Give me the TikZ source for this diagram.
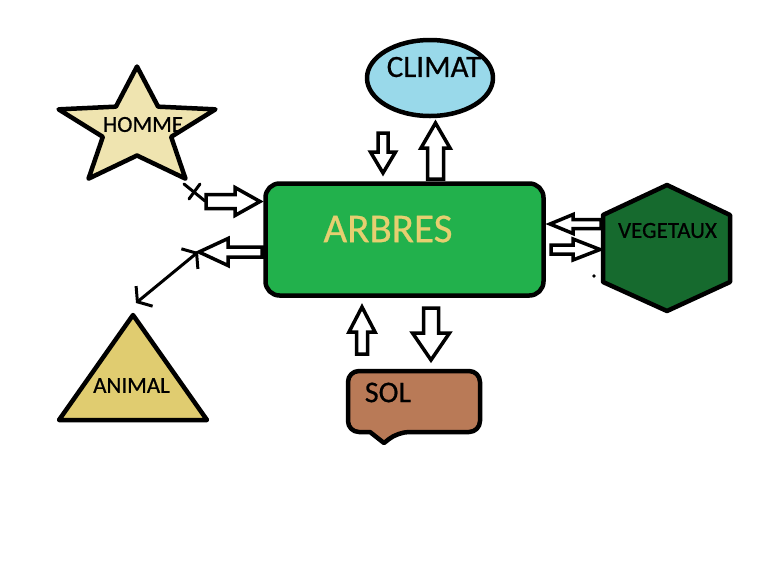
\documentclass[tikz,border=0pt]{standalone}
\usepackage{fontspec}
\setmainfont{Carlito}
\newfontfamily\labelfont{Carlito}[FakeBold=0.6]
\usepackage{tikz}
\usetikzlibrary{shapes.geometric, arrows.meta, positioning, calc}
\definecolor{starcream}{RGB}{239,228,176}
\definecolor{skyblue}{RGB}{153,217,234}
\definecolor{treegreen}{RGB}{34,177,76}
\definecolor{treetext}{RGB}{230,207,112}
\definecolor{plantgreen}{RGB}{22,106,46}
\definecolor{animalgold}{RGB}{224,204,112}
\definecolor{soilbrown}{RGB}{185,122,87}

% block arrow: tail point, angle, length, shaft half width, head half width, head length
\newcommand{\blockarrow}[6]{%
  \draw[blockarr, shift={#1}, rotate=#2] (0,-#4) -- ({#3-#6},-#4) -- ({#3-#6},-#5) -- (#3,0)
    -- ({#3-#6},#5) -- ({#3-#6},#4) -- (0,#4) -- cycle;}

\begin{document}
\begin{tikzpicture}[
    x=1pt, y=-1pt,
    outline/.style={draw=black, line width=4.5pt, line join=round},
    blockarr/.style={draw=black, fill=white, line width=3.5pt, line join=miter},
    thinline/.style={draw=black, line width=3pt, line cap=round},
    label/.style={inner sep=0pt, font=\labelfont\fontsize{23}{23}\selectfont}
]
\fill[white] (0,0) rectangle (777,582);
\useasboundingbox (0,0) rectangle (777,582);

% central box
\node[outline, rectangle, rounded corners=14pt, fill=treegreen, minimum width=278pt, minimum height=112pt] (arbres) at (404.5,239.5) {};
\node[label, text=treetext, font=\labelfont\fontsize{41}{41}\selectfont] (arbrestxt) at (388,229) {ARBRES};

% climate
\node[outline, ellipse, fill=skyblue, minimum width=126pt, minimum height=76pt, inner sep=0pt] (climat) at (430,78) {};
\node[label, font=\labelfont\fontsize{31}{31}\selectfont] (climattxt) at (434,67) {CLIMAT};

% man (stretched star)
\begin{scope}[shift={(137,128.5)}, xscale=1.33]
\draw[outline, fill=starcream] (-90:62) -- (-126:27) -- (-162:62) -- (-198:27) -- (-234:62)
  -- (-270:27) -- (-306:62) -- (-342:27) -- (-378:62) -- (-414:27) -- cycle;
\end{scope}
\node[label] (homme) at (143,124.5) {HOMME};

% plants
\draw[outline, fill=plantgreen] (667,185) -- (730,215) -- (730,282) -- (667,311) -- (603,282) -- (603,215) -- cycle;
\node[label] (vegetaux) at (667.5,230.5) {VEGETAUX};
\fill (594,276) circle (1.8);

% animal
\draw[outline, fill=animalgold] (133,315) -- (207,420) -- (59,420) -- cycle;
\node[label] (animal) at (131.5,385.5) {ANIMAL};

% soil
\draw[outline, fill=soilbrown, rounded corners=11pt] (348,371) -- (480,371) -- (480,432) -- (398,432)
  [sharp corners] -- (384,443) -- (370,432) [rounded corners=11pt] -- (348,432) -- cycle;
\node[label, font=\labelfont\fontsize{30}{30}\selectfont] (sol) at (388,392.5) {SOL};

% block arrows
\blockarrow{(206,201.5)}{0}{54}{7}{14}{25}
\blockarrow{(262,252)}{180}{63}{5}{13.5}{29}
\blockarrow{(383,133)}{-90}{40}{5}{12.5}{21}
\blockarrow{(435.5,179)}{90}{56}{8}{14.5}{25}
\blockarrow{(362,354)}{90}{47}{5.5}{13}{25}
\blockarrow{(431,308)}{-90}{52}{7.5}{18.5}{27}
\blockarrow{(601,224)}{180}{51}{4.5}{9.5}{23}
\blockarrow{(551,249.5)}{0}{49}{4.5}{10.5}{27}

% thin connectors
\coordinate (hommept) at (184,184);
\coordinate (arrtail) at (205,201);
\coordinate (leftpt) at (198,252);
\coordinate (animaltop) at (136,303);
\draw[thinline] (hommept) -- (arrtail);
\draw[thinline] (189,199) -- (200,184);
\draw[thinline, {Straight Barb[length=9pt, width=26pt]}-{Straight Barb[length=9pt, width=26pt]}] (leftpt) -- (animaltop);
\end{tikzpicture}
\end{document}
